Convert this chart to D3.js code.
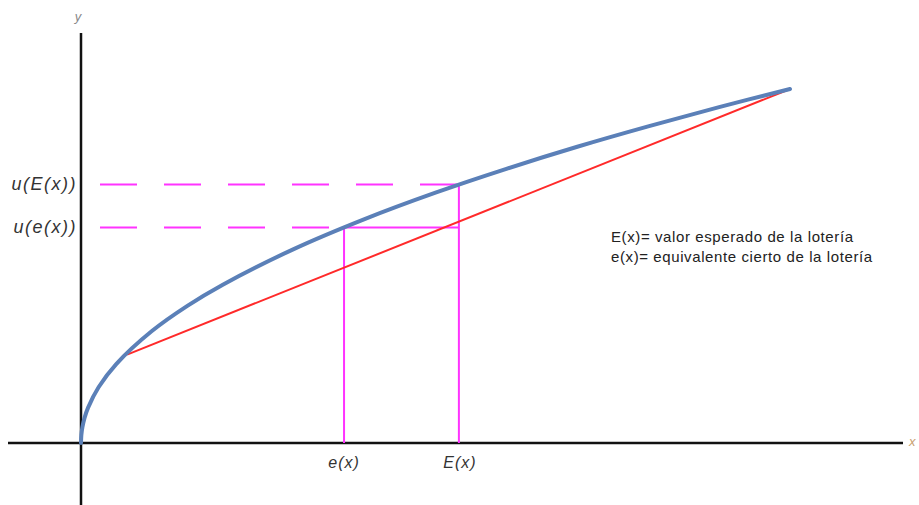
<!DOCTYPE html>
<html><head><meta charset="utf-8">
<script src="https://cdn.jsdelivr.net/npm/d3@7"></script>
<style>body{margin:0;background:#fff}svg{display:block}</style>
</head><body>
<svg id="c" width="919" height="505"></svg>
<script>
// utility curve points (x, u)
const curveX = [0, 0.005, 0.02, 0.05, 0.1, 0.25, 0.5, 1, 1.5, 2, 3, 4, 5, 6, 7, 8, 9, 10];
const curveU = [0, 0.071, 0.141, 0.224, 0.316, 0.5, 0.707, 1, 1.225, 1.414, 1.732, 2, 2.236, 2.449, 2.646, 2.828, 3, 3.162];
// chord (lottery) endpoints
const chordX = [0.65, 10];
const chordU = [0.79, 3.162];
// key values
const eX = 3.71, EX = 5.33;
const uE = 2.309, ue = 1.926;
const xTickLabels = ["e(x)", "E(x)"];
const yTickLabels = ["u(e(x))", "u(E(x))"];
const legendLines = ["E(x)= valor esperado de la lotería", "e(x)= equivalente cierto de la lotería"];

const svg = d3.select("#c");
const x = d3.scaleLinear().domain([0, 10]).range([81, 790]);
const y = d3.scaleLinear().domain([0, 3.162]).range([443, 89]);
const lf = "Liberation Sans, Arial, sans-serif";

// axes
svg.append("line").attr("x1", 8).attr("x2", 903).attr("y1", y(0)).attr("y2", y(0))
  .attr("stroke", "#111").attr("stroke-width", 2.5);
svg.append("line").attr("x1", x(0)).attr("x2", x(0)).attr("y1", 33).attr("y2", 505)
  .attr("stroke", "#111").attr("stroke-width", 2.5);
svg.append("text").attr("x", 78).attr("y", 21).attr("text-anchor", "middle")
  .attr("font-family", lf).attr("font-style", "italic")
  .attr("font-size", 13).attr("fill", "#888").text("y");
svg.append("text").attr("x", 909).attr("y", 446)
  .attr("font-family", lf).attr("font-style", "italic")
  .attr("font-size", 13).attr("fill", "#c8a070").text("x");

const mag = "#ff33ff";
// dashed horizontals
svg.append("line").attr("x1", 100).attr("x2", x(EX)).attr("y1", y(uE)).attr("y2", y(uE))
  .attr("stroke", mag).attr("stroke-width", 2).attr("stroke-dasharray", "37 27");
svg.append("line").attr("x1", 100).attr("x2", x(eX)).attr("y1", y(ue)).attr("y2", y(ue))
  .attr("stroke", mag).attr("stroke-width", 2).attr("stroke-dasharray", "37 27");
svg.append("line").attr("x1", x(eX)).attr("x2", x(EX)).attr("y1", y(ue)).attr("y2", y(ue))
  .attr("stroke", mag).attr("stroke-width", 2);
// verticals
svg.append("line").attr("x1", x(eX)).attr("x2", x(eX)).attr("y1", y(0)).attr("y2", y(ue))
  .attr("stroke", mag).attr("stroke-width", 2);
svg.append("line").attr("x1", x(EX)).attr("x2", x(EX)).attr("y1", y(0)).attr("y2", y(uE))
  .attr("stroke", mag).attr("stroke-width", 2);

// chord
svg.append("line").attr("x1", x(chordX[0])).attr("y1", y(chordU[0]))
  .attr("x2", x(chordX[1])).attr("y2", y(chordU[1]))
  .attr("stroke", "#ff2a2a").attr("stroke-width", 2);

// curve
const pts = curveX.map((d, i) => [d, curveU[i]]);
svg.append("path").datum(pts)
  .attr("d", d3.line().x(d => x(d[0])).y(d => y(d[1])).curve(d3.curveCatmullRom.alpha(0.5)))
  .attr("fill", "none").attr("stroke", "#5b80b8").attr("stroke-width", 4).attr("stroke-linecap", "round");

// labels
svg.append("text").attr("x", x(eX)).attr("y", 468).attr("text-anchor", "middle")
  .attr("font-family", lf).attr("font-style", "italic").attr("font-size", 16)
  .attr("letter-spacing", 1).attr("fill", "#333").text(xTickLabels[0]);
svg.append("text").attr("x", x(EX) + 1).attr("y", 468).attr("text-anchor", "middle")
  .attr("font-family", lf).attr("font-style", "italic").attr("font-size", 16)
  .attr("letter-spacing", 1).attr("fill", "#333").text(xTickLabels[1]);
svg.append("text").attr("x", 77).attr("y", y(ue) + 6).attr("text-anchor", "end")
  .attr("font-family", lf).attr("font-style", "italic").attr("font-size", 18)
  .attr("letter-spacing", 1.5).attr("fill", "#333").text(yTickLabels[0]);
svg.append("text").attr("x", 77).attr("y", y(uE) + 6).attr("text-anchor", "end")
  .attr("font-family", lf).attr("font-style", "italic").attr("font-size", 18)
  .attr("letter-spacing", 1.5).attr("fill", "#333").text(yTickLabels[1]);

legendLines.forEach((t, i) => {
  svg.append("text").attr("x", 611).attr("y", 242 + i * 20)
    .attr("font-family", lf).attr("font-size", 15).attr("letter-spacing", 0.6)
    .attr("fill", "#222").text(t);
});
</script>
</body></html>
